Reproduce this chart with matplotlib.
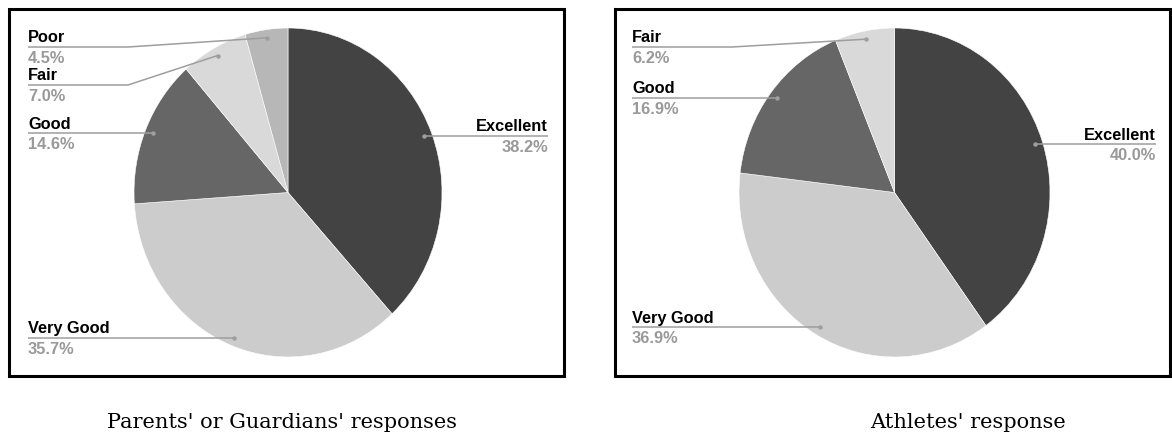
import matplotlib
matplotlib.use("Agg")
import matplotlib.pyplot as plt
import numpy as np

# data
parents_labels = ["Excellent", "Very Good", "Good", "Fair", "Poor"]
parents_values = [38.2, 35.7, 14.6, 7.0, 4.5]
athletes_labels = ["Excellent", "Very Good", "Good", "Fair"]
athletes_values = [40.0, 36.9, 16.9, 6.2]
captions = ["Parents' or Guardians' responses", "Athletes' response"]

COLORS = {"Excellent": "#434343", "Very Good": "#cccccc", "Good": "#666666",
          "Fair": "#d9d9d9", "Poor": "#b7b7b7"}

W, H = 1172, 437
fig = plt.figure(figsize=(W / 100, H / 100), dpi=100)

# overlay in pixel coordinates (origin top-left)
ov = fig.add_axes([0, 0, 1, 1], zorder=5)
ov.set_xlim(0, W)
ov.set_ylim(H, 0)
ov.axis("off")
ov.patch.set_alpha(0)

# panel layout (pixels): box, pie centre, radii, label x positions
panels = [
    dict(box=(9, 9, 564, 376), cx=288, cy=192.5, rx=154, ry=164.5,
         lx=28, rxt=548, caption_x=282,
         line_y={"Poor": 47, "Fair": 85}),
    dict(box=(615, 9, 1170, 376), cx=894.5, cy=192.5, rx=155.5, ry=164.5,
         lx=632, rxt=1156, caption_x=968,
         line_y={"Fair": 47}),
]

LINE_C = "#9e9e9e"
for p, labels, values, cap in zip(panels, [parents_labels, athletes_labels],
                                  [parents_values, athletes_values], captions):
    x0, y0, x1, y1 = p["box"]
    ov.add_patch(plt.Rectangle((x0, y0), x1 - x0, y1 - y0, fill=False,
                               edgecolor="black", linewidth=2.2))

    ax = fig.add_axes([(p["cx"] - p["rx"]) / W, (H - p["cy"] - p["ry"]) / H,
                       2 * p["rx"] / W, 2 * p["ry"] / H])
    wedges, _ = ax.pie(values, colors=[COLORS[l] for l in labels], startangle=90,
                       counterclock=False, radius=1,
                       wedgeprops=dict(edgecolor="white", linewidth=0.4))
    ax.set_aspect("auto")
    ax.set_xlim(-1, 1)
    ax.set_ylim(-1, 1)
    ax.axis("off")

    total = sum(values)
    for w, lab, v in zip(wedges, labels, values):
        mid = np.deg2rad((w.theta1 + w.theta2) / 2)
        disp = ax.transData.transform((0.95 * np.cos(mid), 0.95 * np.sin(mid)))
        dx, dy = ov.transData.inverted().transform(disp)
        right = np.cos(mid) > 0
        ly = p["line_y"].get(lab, dy)
        tx = p["rxt"] if right else p["lx"]
        knee = tx - 100 if right else tx + 100
        if abs(ly - dy) > 1:
            xs = [dx, knee, tx]
            ys = [dy, ly, ly]
        else:
            xs = [dx, tx]
            ys = [dy, dy]
        ov.plot(xs, ys, color=LINE_C, linewidth=1.1, solid_capstyle="butt")
        ov.plot([dx], [dy], "o", color=LINE_C, markersize=3.2, markeredgewidth=0)
        ha = "right" if right else "left"
        ov.text(tx, ly - 4.5, lab, ha=ha, va="baseline", fontsize=11.8,
                fontweight="bold", family="Liberation Sans", color="black")
        ov.text(tx, ly + 16, f"{v / total * 100:.1f}%", ha=ha, va="baseline",
                fontsize=11.8, fontweight="bold", family="Liberation Sans",
                color="#999999")

    ov.text(p["caption_x"], 428, cap, ha="center", va="baseline", fontsize=15,
            family="DejaVu Serif", color="black")

fig.savefig("out.png", dpi=100)
